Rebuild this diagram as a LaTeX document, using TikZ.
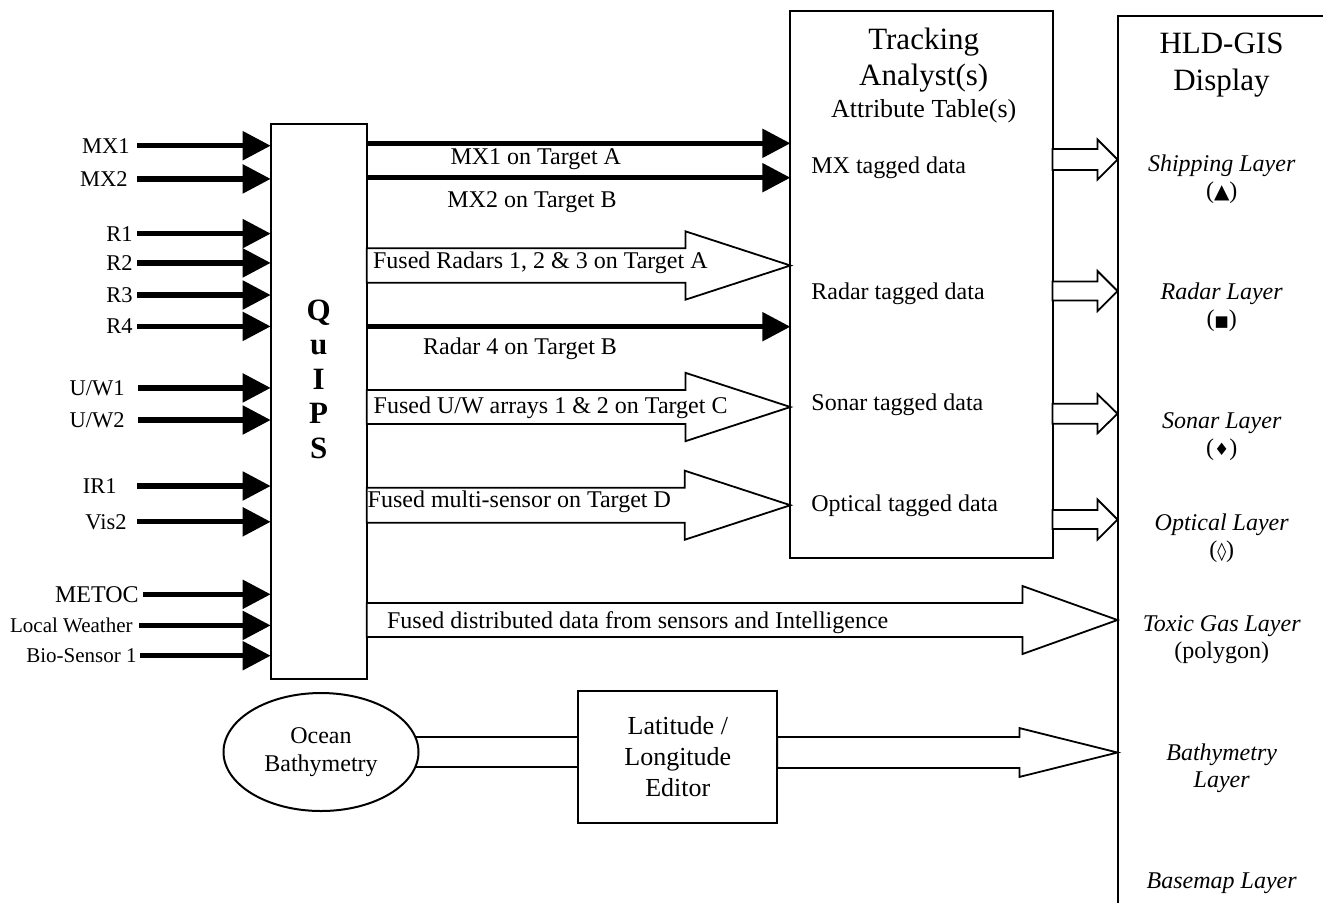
\documentclass[tikz,border=0pt]{standalone}
\usepackage{fontspec}
\setmainfont{Liberation Serif}
\newfontfamily\symfont{DejaVu Sans}
\usetikzlibrary{arrows.meta,calc,shapes.geometric}
\newcommand{\lyrsym}[2][8]{\upshape({\symfont\fontsize{#1}{9}\selectfont #2})}
% hollow block arrow: from node, to node, y, shaft half, head half, head length
\newcommand{\fatarrow}[6]{%
  \path (#1.east |- 0,#3) coordinate (fa-s) (#2.west |- 0,#3) coordinate (fa-t);
  \draw[hollow] ($(fa-s)+(0,#4)$) -- ($(fa-t)+(-#6,#4)$) -- ($(fa-t)+(-#6,#5)$) -- (fa-t)
    -- ($(fa-t)+(-#6,-#5)$) -- ($(fa-t)+(-#6,-#4)$) -- ($(fa-s)+(0,-#4)$) -- cycle;}
\tikzset{
  box/.style={draw,line width=1pt,inner sep=0pt,outer sep=0pt},
  feed/.style={line width=2.6pt,-{Triangle[length=14pt,width=14pt]}},
  hollow/.style={line width=0.9pt,fill=white,line join=miter},
  src/.style={anchor=east,inner sep=0pt,font=\fontsize{11.25}{13}\selectfont},
  txt/.style={inner sep=0pt,font=\fontsize{12}{14}\selectfont},
  layer/.style={inner sep=0pt,align=center,font=\fontsize{12}{13.3}\selectfont\itshape},
  ttl/.style={inner sep=0pt,align=center,font=\fontsize{15.5}{18.3}\selectfont},
}
\begin{document}
\begin{tikzpicture}[x=0.5pt,y=-0.5pt]
  \useasboundingbox (0,0) rectangle (1323,902);
  \clip (0,0) rectangle (1323,902);
  % boxes
  \node[box,minimum width=48pt,minimum height=277.35pt] (quips) at (318.7,401.65) {};
  \node[box,minimum width=131.05pt,minimum height=273.65pt] (track) at (921.45,284.35) {};
  \node[box,minimum width=111.25pt,minimum height=452pt] (hld) at (1228.75,468) {};
  \node[box,minimum width=99.5pt,minimum height=66pt,align=center,font=\fontsize{13}{15.5}\selectfont] (latlon) at (677.8,756.7) {Latitude /\\Longitude\\Editor};
  \node[box,ellipse,minimum width=97.5pt,minimum height=59pt,align=center,font=\fontsize{12}{14}\selectfont] (ocean) at (321,752) {Ocean\\Bathymetry};
  \node[inner sep=0pt,align=center,font=\fontsize{15.5}{17.25}\selectfont\bfseries] (quipsname) at (318.7,379) {Q\\u\\I\\P\\S};
  \node[ttl] (trkname) at (923.7,60) {Tracking\\Analyst(s)};
  \node[inner sep=0pt,font=\fontsize{13}{15}\selectfont] (trkattr) at (923.7,111.7) {Attribute Table(s)};
  \node[ttl] (hldname) at (1221.5,65) {HLD-GIS\\Display};

  % sensor feeds
  \node[src] (mx1) at (130,145.7) {MX1};
  \node[src] (mx2) at (128,178.9) {MX2};
  \node[src] (r1) at (133,233.6) {R1};
  \node[src] (r2) at (133,262.9) {R2};
  \node[src] (r3) at (133,295) {R3};
  \node[src] (r4) at (133,326.4) {R4};
  \node[src] (uw1) at (125,387.9) {U/W1};
  \node[src] (uw2) at (125,420) {U/W2};
  \node[src] (ir1) at (117,486) {IR1};
  \node[src] (vis2) at (127,521.8) {Vis2};
  \node[src,font=\fontsize{12}{14}\selectfont] (metoc) at (139,594.3) {METOC};
  \node[src,font=\fontsize{10.5}{12}\selectfont] (lwx) at (133,625.4) {Local Weather};
  \node[src,font=\fontsize{10.5}{12}\selectfont] (bio) at (137,655.7) {Bio-Sensor 1};
  \draw[feed] ([xshift=3.5pt]mx1.east) -- (mx1.east -| quips.west);
  \draw[feed] ([xshift=4.5pt]mx2.east) -- (mx2.east -| quips.west);
  \draw[feed] ([xshift=2pt]r1.east) -- (r1.east -| quips.west);
  \draw[feed] ([xshift=2pt]r2.east) -- (r2.east -| quips.west);
  \draw[feed] ([xshift=2pt]r3.east) -- (r3.east -| quips.west);
  \draw[feed] ([xshift=2pt]r4.east) -- (r4.east -| quips.west);
  \draw[feed] ([xshift=6.5pt]uw1.east) -- (uw1.east -| quips.west);
  \draw[feed] ([xshift=6.5pt]uw2.east) -- (uw2.east -| quips.west);
  \draw[feed] ([xshift=10pt]ir1.east) -- (ir1.east -| quips.west);
  \draw[feed] ([xshift=5pt]vis2.east) -- (vis2.east -| quips.west);
  \draw[feed] ([xshift=2pt]metoc.east) -- (metoc.east -| quips.west);
  \draw[feed] ([xshift=3pt]lwx.east) -- (lwx.east -| quips.west);
  \draw[feed] ([xshift=1.5pt]bio.east) -- (bio.east -| quips.west);

  % QuIPS to tracking
  \draw[feed] (quips.east |- 0,143.3) -- (track.west |- 0,143.3);
  \draw[feed] (quips.east |- 0,177.7) -- (track.west |- 0,177.7);
  \draw[feed] (quips.east |- 0,326.7) -- (track.west |- 0,326.7);
  \node[txt] (mx1tgt) at (535.8,159.5) {MX1 on Target A};
  \node[txt] (mx2tgt) at (532,202) {MX2 on Target B};
  \node[txt] (r4tgt) at (520,349) {Radar 4 on Target B};
  \fatarrow{quips}{track}{265.5}{17.2}{34.2}{105}
  \fatarrow{quips}{track}{407}{17}{34.2}{105}
  \fatarrow{quips}{track}{505.2}{17.5}{34.5}{105.6}
  \fatarrow{quips}{hld}{620}{17}{34}{95}
  \node[txt,anchor=west] (radfuse) at (372.7,262.5) {Fused Radars 1, 2 \& 3 on Target A};
  \node[txt,anchor=west] (uwfuse) at (373.3,407.5) {Fused U/W arrays 1 \& 2 on Target C};
  \node[txt,anchor=west] (multifuse) at (367.3,501.5) {Fused multi-sensor on Target D};
  \node[txt,anchor=west] (distfuse) at (386.7,622.5) {Fused distributed data from sensors and Intelligence};

  % tracking tables to layers
  \node[txt,anchor=west] (mxtag) at (811,168) {MX tagged data};
  \node[txt,anchor=west] (radtag) at (811,294) {Radar tagged data};
  \node[txt,anchor=west] (sontag) at (811,405) {Sonar tagged data};
  \node[txt,anchor=west] (opttag) at (811,506) {Optical tagged data};
  \fatarrow{track}{hld}{159.5}{10.5}{20}{20}
  \fatarrow{track}{hld}{291}{9.5}{20}{20}
  \fatarrow{track}{hld}{413.7}{10}{19.5}{20}
  \fatarrow{track}{hld}{519.5}{9.5}{20}{20}

  % bathymetry path
  \draw[line width=0.9pt] (ocean.9) -- (ocean.9 -| latlon.west);
  \draw[line width=0.9pt] (ocean.-9.6) -- (ocean.-9.6 -| latlon.west);
  \fatarrow{latlon}{hld}{752.5}{15.5}{24.4}{98}

  % layers
  \node[layer] (shiplyr) at (1221.7,179) {Shipping Layer\\\lyrsym[10]{▲}};
  \node[layer] (radlyr) at (1221.7,307.5) {Radar Layer\\\lyrsym[7.5]{■}};
  \node[layer] (sonlyr) at (1221.7,436.5) {Sonar Layer\\\lyrsym[8.5]{♦}};
  \node[layer] (optlyr) at (1221.7,538) {Optical Layer\\\lyrsym[9]{◊}};
  \node[layer] (gaslyr) at (1221.7,639.5) {Toxic Gas Layer\\\upshape(polygon)};
  \node[layer] (batlyr) at (1221.7,768) {Bathymetry\\Layer};
  \node[layer] (baselyr) at (1221.7,883) {Basemap Layer};
\end{tikzpicture}
\end{document}
